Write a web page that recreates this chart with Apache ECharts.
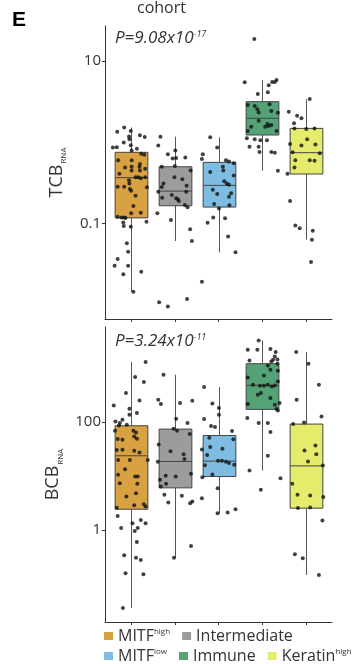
<!DOCTYPE html>
<html>
<head>
<meta charset="utf-8">
<script src="https://cdn.jsdelivr.net/npm/echarts@6/dist/echarts.min.js"></script>
<style>
  html, body { margin: 0; padding: 0; background: #fff; }
  #chart { width: 362px; height: 664px; }
</style>
</head>
<body>
<div id="chart"></div>
<script>
// Expression groups (cohort), in axis order
const groups = ['MITFhigh', 'Intermediate', 'MITFlow', 'Immune', 'Keratinhigh'];
const groupLabels = {
  MITFhigh: '{b|MITF}{s|high}',
  Intermediate: '{b|Intermediate}',
  MITFlow: '{b|MITF}{s|low}',
  Immune: '{b|Immune}',
  Keratinhigh: '{b|Keratin}{s|high}'
};
const groupColors = ['#D8A242', '#9C9C9C', '#7FBCE2', '#54A376', '#E5EC6B'];

// Box summaries per group: [lower whisker, Q1, median, Q3, upper whisker]
const tcbBoxes = [
  [0.0144, 0.117, 0.366, 0.751, 1.52],
  [0.0607, 0.165, 0.25, 0.499, 1.17],
  [0.044, 0.159, 0.294, 0.565, 1.15],
  [0.446, 1.227, 1.97, 3.16, 5.84],
  [0.063, 0.406, 0.743, 1.48, 3.40]
];
const bcbBoxes = [
  [0.0356, 2.42, 23.7, 85.4, 1300],
  [0.306, 6.03, 18.6, 74.1, 755],
  [2.04, 9.77, 18.9, 56.4, 445],
  [12.6, 172, 479, 1210, 3270],
  [0.146, 2.53, 15.4, 91.8, 1995]
];

// Samples per group: [horizontal jitter (category units), value]
const tcbMitfHigh = [[-0.32,1.35],[-0.16,1.52],[-0.01,1.37],[-0.05,1.18],[-0.04,1.09],[0.20,1.22],[0.31,1.16],[-0.17,0.99],[-0.01,0.92],[-0.42,0.86],[-0.33,0.87],[0.13,0.83],[0.01,0.79],[0.23,0.72],[0.30,0.70],[-0.30,0.60],[0.01,0.60],[0.20,0.54],[0.01,0.50],[0.19,0.50],[0.32,0.47],[0.01,0.45],[0.20,0.45],[-0.14,0.49],[-0.27,0.41],[-0.05,0.34],[-0.04,0.31],[0.16,0.37],[0.10,0.37],[0.22,0.36],[0.32,0.37],[-0.31,0.283],[-0.16,0.283],[-0.03,0.265],[0.00,0.253],[0.36,0.278],[0.10,0.219],[0.05,0.164],[0.00,0.133],[0.22,0.135],[-0.31,0.121],[-0.22,0.118],[-0.16,0.118],[-0.13,0.117],[0.35,0.105],[-0.18,0.103],[-0.17,0.093],[-0.01,0.091],[-0.10,0.057],[-0.07,0.0448],[-0.31,0.0365],[-0.38,0.0302],[-0.07,0.0302],[-0.18,0.0236],[0.23,0.0254],[0.05,0.0144]];
const tcbIntermediate = [[-0.33,1.17],[-0.38,0.91],[0.01,0.79],[-0.16,0.71],[0.03,0.64],[-0.05,0.63],[0.24,0.65],[-0.30,0.50],[0.00,0.51],[0.36,0.45],[-0.01,0.37],[0.17,0.35],[-0.26,0.31],[-0.30,0.28],[0.27,0.29],[-0.38,0.245],[0.26,0.245],[-0.29,0.207],[-0.07,0.224],[0.03,0.204],[0.07,0.198],[0.09,0.189],[0.23,0.169],[0.29,0.158],[-0.40,0.133],[-0.09,0.110],[0.35,0.0846],[0.39,0.0607],[-0.36,0.0107],[-0.16,0.0095],[0.28,0.0117]];
const tcbMitfLow = [[-0.19,1.15],[-0.03,0.86],[-0.36,0.71],[-0.38,0.62],[0.17,0.60],[0.24,0.58],[0.35,0.55],[0.10,0.50],[0.11,0.45],[-0.19,0.43],[0.35,0.39],[0.13,0.33],[0.19,0.31],[0.24,0.30],[-0.13,0.26],[0.29,0.235],[0.24,0.213],[-0.03,0.230],[-0.10,0.173],[0.25,0.167],[0.01,0.153],[0.15,0.116],[-0.12,0.118],[-0.25,0.102],[0.22,0.069],[0.39,0.044],[-0.38,0.0191]];
const tcbImmune = [[-0.18,18.7],[-0.40,5.46],[-0.10,3.92],[0.15,5.02],[0.23,5.51],[0.33,5.84],[0.29,5.51],[0.13,4.12],[-0.33,2.87],[-0.17,2.79],[-0.11,2.54],[-0.08,2.33],[0.17,2.93],[0.21,2.42],[0.36,2.31],[-0.08,1.84],[-0.25,1.55],[0.12,1.68],[0.15,1.58],[0.21,1.63],[0.07,1.55],[-0.33,1.37],[0.33,1.37],[-0.35,1.12],[-0.17,1.09],[-0.04,1.06],[0.11,1.06],[-0.29,0.88],[-0.08,0.88],[-0.06,0.76],[0.21,0.76],[0.29,0.74],[0.36,0.446]];
const tcbKeratinHigh = [[0.09,3.40],[-0.39,2.38],[-0.20,2.12],[-0.10,1.97],[-0.27,1.71],[-0.26,1.48],[0.01,1.45],[0.20,1.48],[0.03,1.09],[-0.36,0.95],[-0.10,0.91],[0.22,0.94],[-0.30,0.75],[0.32,0.73],[-0.24,0.60],[0.09,0.60],[0.20,0.59],[-0.26,0.49],[-0.42,0.41],[-0.36,0.189],[-0.24,0.094],[-0.14,0.087],[0.16,0.081],[0.14,0.063],[0.12,0.0335]];

const bcbMitfHigh = [[0.33,1300],[0.09,685],[0.29,553],[-0.12,346],[0.19,252],[-0.40,203],[-0.04,177],[0.13,147],[-0.04,137],[-0.20,110],[-0.36,103],[-0.26,95.8],[-0.10,89.1],[-0.28,86.5],[-0.37,68.9],[0.05,68.9],[0.11,64.1],[0.07,54.0],[-0.31,48.3],[-0.20,46.9],[0.13,49.0],[-0.20,30.6],[0.07,29.3],[0.19,27.3],[-0.33,30.2],[-0.30,19.9],[-0.03,19.9],[0.38,19.9],[-0.14,13.4],[-0.30,10.5],[0.09,9.77],[0.15,9.77],[-0.26,7.36],[0.14,7.15],[-0.11,4.15],[0.11,4.81],[0.07,2.87],[0.29,3.00],[0.33,2.71],[-0.33,2.59],[-0.31,1.82],[0.03,1.33],[0.22,1.53],[0.33,1.33],[-0.23,1.09],[0.15,1.09],[0.08,0.96],[0.13,0.60],[-0.16,0.339],[0.11,0.306],[0.22,0.277],[-0.13,0.157],[0.28,0.150],[-0.19,0.0356]];
const bcbIntermediate = [[-0.26,755],[-0.38,260],[-0.32,216],[0.12,225],[0.40,249],[0.03,115],[0.29,95.8],[-0.03,75.2],[0.05,68.9],[0.34,59.8],[-0.37,38.4],[-0.10,28.9],[0.20,25.4],[0.22,20.6],[-0.39,18.3],[-0.34,8.48],[-0.21,10.1],[0.02,9.77],[0.37,11.0],[-0.32,6.37],[-0.20,7.15],[-0.24,4.47],[-0.15,3.21],[0.16,4.28],[0.35,3.13],[0.40,3.35],[0.37,0.505],[-0.02,0.306]];
const bcbMitfLow = [[-0.33,445],[-0.14,221],[0.01,182],[0.01,137],[-0.33,114],[-0.17,84.3],[-0.08,81.1],[0.31,68.1],[-0.21,51.1],[0.34,47.9],[-0.19,34.5],[-0.38,30.9],[0.09,31.9],[-0.26,24.4],[-0.01,19.1],[0.08,19.1],[0.17,18.3],[0.24,17.4],[-0.31,15.8],[0.36,16.1],[-0.14,10.7],[-0.37,9.52],[-0.02,5.95],[-0.38,3.88],[-0.02,2.04],[0.21,2.11],[0.39,2.43]];
const bcbImmune = [[-0.08,3270],[-0.33,2200],[-0.11,2200],[0.19,2270],[-0.29,1390],[0.31,1995],[0.29,1650],[0.25,1435],[0.35,1453],[0.21,1334],[0.13,1125],[0.35,1210],[0.19,936],[0.36,897],[0.04,733],[-0.33,673],[-0.05,472],[0.04,472],[0.13,493],[0.29,479],[-0.21,493],[0.22,458],[0.36,568],[-0.03,345],[-0.10,321],[0.19,279],[-0.33,216],[0.29,210],[0.33,174],[0.36,164],[0.40,225],[-0.34,119],[-0.08,95.8],[0.13,95.8],[0.19,65.2],[0.13,23.7],[-0.29,12.6],[-0.03,5.53],[0.42,9.12]];
const bcbKeratinHigh = [[-0.22,1995],[0.06,1210],[0.30,493],[-0.21,260],[0.36,127],[-0.29,91.8],[-0.04,98.4],[-0.03,29.7],[0.22,36.8],[0.24,25.4],[0.05,18.5],[0.39,15.6],[-0.31,7.15],[-0.19,4.47],[0.10,4.37],[0.40,4.10],[-0.18,2.56],[0.10,2.60],[0.38,1.49],[-0.25,0.355],[-0.07,0.298],[0.30,0.146]];

const tcbPoints = [tcbMitfHigh, tcbIntermediate, tcbMitfLow, tcbImmune, tcbKeratinHigh];
const bcbPoints = [bcbMitfHigh, bcbIntermediate, bcbMitfLow, bcbImmune, bcbKeratinHigh];

// Axis ranges (raw units, drawn on a log10 scale) and labelled ticks
const tcbRange = [0.00665, 27];
const bcbRange = [0.0196, 5800];
const tcbTicks = [0.1, 10];
const bcbTicks = [1, 100];

const log = Math.log10;
const FONT = '"Open Sans", sans-serif';
const INK = '#333';
const BOX_WIDTH = 0.75;

function boxSeriesFor(boxes, axisIndex) {
  return boxes.map(function (b, i) {
    return {
      type: 'custom',
      name: groups[i],
      xAxisIndex: axisIndex,
      yAxisIndex: axisIndex,
      itemStyle: { color: groupColors[i] },
      z: 2,
      data: [[i + 1].concat(b.map(log))],
      renderItem: renderBox
    };
  });
}

function renderBox(params, api) {
  const x = api.value(0);
  const lo = api.coord([x, api.value(1)]);
  const q1 = api.coord([x, api.value(2)]);
  const md = api.coord([x, api.value(3)]);
  const q3 = api.coord([x, api.value(4)]);
  const hi = api.coord([x, api.value(5)]);
  const w = api.size([BOX_WIDTH, 0])[0];
  const cx = Math.round(q3[0]) + 0.5;
  const lineStyle = { stroke: '#555', lineWidth: 1 };
  return {
    type: 'group',
    children: [
      { type: 'line', shape: { x1: cx, y1: hi[1], x2: cx, y2: q3[1] }, style: lineStyle },
      { type: 'line', shape: { x1: cx, y1: q1[1], x2: cx, y2: lo[1] }, style: lineStyle },
      { type: 'rect', shape: { x: cx - w / 2, y: q3[1], width: w, height: q1[1] - q3[1] },
        style: { fill: api.visual('color'), stroke: '#444', lineWidth: 1 } },
      { type: 'line', shape: { x1: cx - w / 2, y1: md[1], x2: cx + w / 2, y2: md[1] },
        style: { stroke: '#444', lineWidth: 1 } }
    ]
  };
}

function pointSeriesFor(pointGroups, axisIndex) {
  const data = [];
  pointGroups.forEach(function (pts, i) {
    pts.forEach(function (p) { data.push([i + 1 + p[0], log(p[1])]); });
  });
  return {
    type: 'scatter',
    xAxisIndex: axisIndex,
    yAxisIndex: axisIndex,
    symbol: 'circle',
    symbolSize: 4,
    itemStyle: { color: '#111' },
    z: 5,
    data: data
  };
}

function xAxisFor(gridIndex) {
  return {
    type: 'value', gridIndex: gridIndex, min: 0.4, max: 5.6,
    axisLine: { show: true, onZero: false, lineStyle: { color: INK, width: 1 } },
    axisTick: { show: true, length: 3, customValues: [1, 2, 3, 4, 5], lineStyle: { color: INK } },
    axisLabel: { show: false },
    splitLine: { show: false }
  };
}

function yAxisFor(gridIndex, range, ticks, title) {
  const tickValues = ticks.map(log);
  return {
    type: 'value', gridIndex: gridIndex,
    min: log(range[0]), max: log(range[1]),
    axisLine: { show: true, onZero: false, lineStyle: { color: INK, width: 1 } },
    axisTick: { show: true, length: 3, customValues: tickValues, lineStyle: { color: INK } },
    axisLabel: {
      customValues: tickValues, margin: 4,
      color: INK, fontSize: 15, fontFamily: FONT,
      formatter: function (v) { return String(+Math.pow(10, v).toPrecision(3)); }
    },
    splitLine: { show: false },
    name: '{m|' + title + '}{s|RNA}',
    nameLocation: 'middle',
    nameRotate: 90,
    nameGap: 37,
    nameTextStyle: {
      color: INK, fontFamily: FONT,
      rich: {
        m: { fontSize: 18, color: INK, fontFamily: FONT },
        s: { fontSize: 8, color: INK, fontFamily: FONT, verticalAlign: 'bottom', padding: [14, 0, 0, 1] }
      }
    }
  };
}

const legendText = {
  fontSize: 16, color: INK, fontFamily: FONT,
  rich: {
    b: { fontSize: 16, color: INK, fontFamily: FONT },
    s: { fontSize: 8, color: INK, fontFamily: FONT, verticalAlign: 'top', padding: [0, 0, 6, 0] }
  }
};

const pRich = {
  p: { fontSize: 17, fontStyle: 'italic', fontWeight: 'normal', color: INK, fontFamily: FONT },
  e: { fontSize: 9, fontStyle: 'italic', fontWeight: 'normal', color: INK, fontFamily: FONT, verticalAlign: 'top' }
};

const option = {
  animation: false,
  backgroundColor: '#fff',
  textStyle: { fontFamily: FONT },
  title: [
    { text: 'E', left: 12, top: 10, padding: 0,
      textStyle: { fontSize: 21, fontWeight: 'bold', color: '#000', fontFamily: '"Liberation Sans", sans-serif' } },
    { text: 'cohort', left: 137, top: 0, padding: 0,
      textStyle: { fontSize: 16, fontWeight: 'normal', color: INK, fontFamily: FONT } },
    { text: '{p|P=9.08x10}{e|-17}', left: 115, top: 30, padding: 0,
      textStyle: { fontWeight: 'normal', rich: pRich } },
    { text: '{p|P=3.24x10}{e|-11}', left: 115, top: 333, padding: 0,
      textStyle: { fontWeight: 'normal', rich: pRich } }
  ],
  legend: [
    { data: groups.slice(0, 2), left: 104, top: 628, padding: 0,
      icon: 'rect', itemWidth: 9, itemHeight: 8, itemGap: 12, selectedMode: false,
      formatter: function (n) { return groupLabels[n]; }, textStyle: legendText },
    { data: groups.slice(2), left: 104, top: 648, padding: 0,
      icon: 'rect', itemWidth: 9, itemHeight: 8, itemGap: 12, selectedMode: false,
      formatter: function (n) { return groupLabels[n]; }, textStyle: legendText }
  ],
  grid: [
    { left: 105, top: 26, width: 227, height: 293, outerBoundsMode: 'none' },
    { left: 105, top: 327, width: 227, height: 295, outerBoundsMode: 'none' }
  ],
  xAxis: [xAxisFor(0), xAxisFor(1)],
  yAxis: [yAxisFor(0, tcbRange, tcbTicks, 'TCB'), yAxisFor(1, bcbRange, bcbTicks, 'BCB')],
  series: []
    .concat(boxSeriesFor(tcbBoxes, 0))
    .concat(boxSeriesFor(bcbBoxes, 1))
    .concat([pointSeriesFor(tcbPoints, 0), pointSeriesFor(bcbPoints, 1)])
};

const chart = echarts.init(document.getElementById('chart'), null, { renderer: 'canvas' });
chart.setOption(option);
</script>
</body>
</html>
